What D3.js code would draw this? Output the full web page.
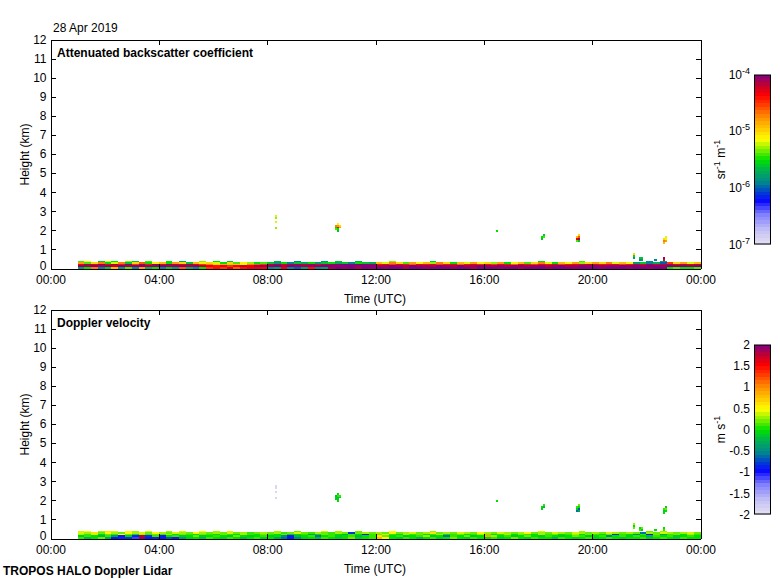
<!DOCTYPE html>
<html><head><meta charset="utf-8">
<script src="https://cdn.jsdelivr.net/npm/d3@7/dist/d3.min.js"></script>
<style>
body{margin:0;background:#fff}
text{font-family:"Liberation Sans",Arial,Helvetica,sans-serif;fill:#000}
</style>
</head><body>
<svg id="c" width="780" height="580"></svg>
<script>
// ---------------- DATA ----------------
const dateLabel = "28 Apr 2019";
const footer = "TROPOS HALO Doppler Lidar";
const xTickHours = [0, 4, 8, 12, 16, 20, 24];
const xTickLabels = ["00:00", "04:00", "08:00", "12:00", "16:00", "20:00", "00:00"];
const yTicks = [0, 1, 2, 3, 4, 5, 6, 7, 8, 9, 10, 11, 12];
const betaTickExp = [-7, -6, -5, -4];
const velTicks = [-2, -1.5, -1, -0.5, 0, 0.5, 1, 1.5, 2];

// time grid of the boundary-layer profiles (hours UTC) and range gates (km)
const timeStart = 1, timeStep = 0.25;
const gateBase = [0, 0.08, 0.16, 0.24, 0.32];
const gateSize = 0.08;

// log10 attenuated backscatter (sr-1 m-1), one array per range gate, 15-min columns from 01:00
const betaG0 = [-5.8,-5.5,-4.7,-5.9,-5.6,-4.9,-5.8,-5.4,-5.9,-4.8,-5.7,-5.5,
  -5.9,-5.6,-5.8,-4.6,-5.7,-5.9,-5.5,-4.5,
  -4.4,-4.5,-4.3,-4.6,-4.4,-4.3, -4.3,-4.35,
  -5.9,-5.8,-4.3,-5.9,-6.0,-5.8,-4.4,-5.9,-5.8,-4.1,-4.0,-4.05,-4.0,-4.1,-4.0,-4.05,
  -4.0,-4.05,-4.0,-4.0,-4.1,-4.0,-4.0,-4.05,-4.0,-4.0,-4.0,-4.05,-4.0,-4.0,-4.1,-4.0,
  -4.0,-4.0,-4.05,-4.0,-4.0,-4.1,-4.0,-4.0,-4.0,-4.05,-4.0,-4.0,-4.0,-4.05,-4.0,-4.0,
  -4.0,-4.05,-4.0,-4.0,-4.0,-4.05,
  -4.0,-4.0,-4.05,-4.0,-4.0,-5.5,-5.4,-5.5,-5.5,-5.4];
const betaG1 = [-4.05,-4.1,-4.0,-4.1,-4.05,-4.2,-4.0,-4.1,-4.05,-4.0,-4.1,-4.05,
  -4.0,-4.1,-4.05,-4.0,-4.1,-4.05,-4.2,-4.3,
  -4.4,-4.3,-4.5,-4.35,-4.2,-4.3, -4.1,-4.05,
  -4.05,-4.0,-4.1,-4.0,-4.05,-4.1,-4.0,-4.05,-4.0,-4.0,-4.05,-4.0,-4.0,-4.05,-4.0,-4.0,
  -4.1,-4.05,-4.0,-4.05,-4.1,-4.0,-4.05,-4.05,-4.1,-4.0,-4.05,-4.1,-4.0,-4.1,-4.05,-4.0,
  -4.05,-4.1,-4.0,-4.1,-4.05,-4.0,-4.1,-4.05,-4.0,-4.1,-4.05,-4.0,-4.1,-4.05,-4.0,-4.05,
  -4.0,-4.05,-4.0,-4.05,-4.0,-4.0,
  -4.0,-4.05,-4.0,-4.0,-4.05,-4.0,-4.0,-4.0,-4.05,-4.0];
const betaG2 = [-4.35,-4.1,-4.3,-4.05,-4.35,-4.1,-4.4,-4.05,-4.5,-4.1,-4.4,-4.05,
  -4.3,-4.05,-4.2,-4.3,-4.1,-4.3,-4.5,-4.7,
  -5.0,-4.8,-5.3,-4.9,-5.1,-4.7, -4.6,-4.5,
  -4.2,-4.1,-4.3,-4.15,-4.1,-4.2,-4.1,-4.3,-4.15,-4.1,-4.05,-4.0,-4.05,-4.0,-4.05,-4.1,
  -4.4,-4.35,-4.5,-4.3,-4.4,-4.6,-4.35,-4.4,-4.3,-4.5,-4.4,-4.35,-4.6,-4.4,-4.3,-4.45,
  -4.4,-4.5,-4.35,-4.4,-4.6,-4.3,-4.4,-4.5,-4.35,-4.4,-4.3,-4.5,-4.4,-4.35,-4.3,-4.2,
  -4.3,-4.4,-4.35,-4.3,-4.5,-4.4,
  -4.2,-4.3,-4.1,-4.25,-4.2,-4.1,-4.3,-4.2,-4.3,-4.2];
const betaG3 = [-4.8,-5.4,-5.0,-4.7,-5.5,-5.2,-4.7,-5.6,-5.0,-4.6,-5.5,-5.1,
  -4.9,-5.5,-4.8,-5.0,-5.6,-4.9,-5.1,-5.0,
  -5.2,-5.5,-5.0,-5.4,-5.1,-5.3, -5.5,-5.4,
  -5.6,-5.8,-5.5,-5.9,-5.6,-5.7,-5.5,-5.8,-5.6,-5.5,-5.7,-5.6,-5.9,-5.5,-5.6,-5.7,
  -4.9,-5.2,-4.7,-5.0,-5.4,-4.8,-5.1,-4.9,-5.3,-4.7,-5.0,-5.5,-4.9,-5.2,-4.8,-5.1,
  -5.0,-5.3,-4.8,-5.5,-5.1,-4.9,-5.4,-5.0,-4.7,-5.2,-5.5,-4.9,-5.1,-4.8,-5.3,-5.0,
  -4.8,-5.0,-4.7,-5.2,-4.9,-5.1,
  -5.8,-5.6,-5.9,-5.7,-6.0,-4.5,-5.0,-4.8,-5.2,-4.9];
const betaG4 = [-5.4,-5.1,null,-5.6,-5.2,-5.5,null,-5.3,-5.6,null,-5.4,null,
  null,-5.5,null,-5.7,null,null,-5.3,null,
  -5.5,null,-5.6,null,null,null, null,null,
  null,-5.7,null,null,-5.9,null,null,null,-5.8,null,-5.6,null,null,-5.7,null,null,
  null,null,-5.3,null,null,null,null,null,-5.6,null,null,null,null,null,null,null,
  null,null,null,null,null,null,null,null,-5.5,null,null,null,null,null,-5.4,null,
  null,null,null,null,null,null,
  null,null,-5.9,null,-5.8,null,null,null,null,null];

// Doppler velocity (m s-1), same grid
const velG0 = [0.1,-0.2,0.0,0.2,-0.3,-0.9,-1.0,-0.8,-1.1,1.9,-0.9,-1.0,
  -0.9,-0.7,-1.0,-0.4,-0.1,0.0,-0.2,0.1,
  0.0,-0.1,0.1,0.0,-0.2,0.0, 0.1,-0.1,
  0.0,-0.3,-0.6,-0.9,-0.5,-0.1,0.0,-0.2,0.1,0.0,-0.1,0.0,0.2,-0.1,0.0,0.1,
  0.8,0.5,0.0,-0.1,0.1,0.0,-0.2,0.0,0.1,-0.1,0.0,0.2,0.0,-0.1,0.1,0.0,
  0.0,0.1,-0.1,0.0,0.2,0.0,-0.1,0.1,0.0,0.0,-0.2,0.1,0.0,-0.1,0.0,0.1,
  -0.1,0.0,0.1,0.0,-0.1,0.0,
  0.0,0.1,-0.1,0.0,0.1,0.0,-0.1,0.1,0.0,0.0];
const velG1 = [-0.1,0.1,0.0,-0.2,0.1,-0.4,-0.9,-0.1,-1.0,1.8,-0.8,0.1,
  -0.9,0.0,0.1,-0.1,0.0,0.2,-0.1,0.0,
  0.1,0.0,-0.1,0.2,0.0,-0.1, 0.0,0.1,
  -0.1,0.0,-0.5,-0.9,-0.2,0.0,0.1,-0.6,0.0,0.1,-0.1,0.0,0.1,-0.2,0.0,0.1,
  0.6,0.2,0.0,0.1,-0.1,0.0,0.1,0.3,-0.1,0.0,-0.6,0.1,0.0,0.2,-0.1,0.0,
  0.9,0.3,0.0,0.1,-0.1,0.0,0.2,0.0,-0.1,0.1,0.0,-0.1,0.0,0.2,0.1,-0.1,
  0.0,0.1,-0.5,0.0,0.1,-0.1,
  0.1,0.0,-0.2,0.1,0.0,0.1,-0.1,0.0,0.1,0.0];
const velG2 = [0.3,0.1,0.4,0.0,0.2,0.1,0.5,0.2,0.0,0.3,0.1,0.2,
  0.1,0.3,0.0,0.2,0.1,0.0,0.2,0.1,
  0.0,0.2,0.1,0.0,0.3,0.1, 0.0,0.2,
  0.1,0.0,0.2,-0.1,0.0,0.1,-0.3,0.0,0.2,0.1,0.0,-0.2,0.1,0.0,-0.9,0.1,
  0.2,0.4,0.1,0.0,0.3,0.1,0.2,0.0,0.1,0.3,0.0,0.1,0.2,0.0,0.1,0.3,
  0.2,0.0,0.1,0.3,0.0,0.2,0.1,0.0,0.3,0.1,0.2,0.0,0.1,0.3,0.0,0.2,
  0.1,0.0,0.2,-0.8,0.1,0.0,
  -0.5,0.1,-0.9,0.2,-0.3,0.1,0.2,0.0,0.3,0.1];
const velG3 = [0.4,0.3,0.6,0.2,0.5,0.3,0.2,0.5,0.3,0.4,0.2,0.5,
  0.3,0.2,0.4,0.3,0.2,0.5,0.3,0.2,
  0.3,0.2,0.4,0.2,0.3,0.1, 0.2,0.3,
  0.2,0.3,0.1,0.2,0.4,0.2,0.1,0.3,0.2,0.1,0.3,0.2,-0.8,0.2,0.3,0.2,
  0.3,0.2,0.5,0.2,0.3,0.4,0.2,0.3,0.6,0.2,0.3,0.2,0.4,0.3,0.2,0.5,
  0.3,0.2,0.4,0.3,0.2,0.3,0.5,0.2,0.3,0.2,0.4,0.3,0.2,0.4,0.3,0.2,
  0.3,0.2,0.4,0.3,0.2,0.3,
  0.2,-0.6,0.3,0.2,0.4,0.3,0.2,0.3,0.4,0.2];
const velG4 = [0.4,0.5,null,0.3,0.6,0.4,null,0.5,0.3,null,0.4,null,
  null,0.3,null,0.4,null,null,0.5,null,
  0.3,null,0.4,null,null,null, null,null,
  null,0.3,null,null,0.2,null,null,null,0.4,null,0.3,null,null,0.2,null,null,
  null,null,0.5,null,null,null,null,null,0.3,null,null,null,null,null,null,null,
  null,null,null,null,null,null,null,null,0.4,null,null,null,null,null,0.3,null,
  null,null,null,null,null,null,
  null,null,0.2,null,0.3,null,null,null,null,null];

// isolated cloud / aerosol features above the boundary layer
const featTime   = [8.28,8.28,8.28,8.28, 10.50,10.50,10.50, 10.58,10.58,10.58,10.58,10.58, 10.66,10.66, 16.45,
  18.10,18.10,18.18,18.18, 19.40,19.40,19.40, 19.48,19.48,19.48,19.48, 22.60,22.60,22.60, 22.68,22.68,22.68,
  21.50,21.50,21.50, 21.72,21.72, 21.80,21.80, 22.30, 22.62,22.62];
const featHeight = [2.70,2.60,2.40,2.05, 2.00,2.10,2.20, 1.90,2.00,2.10,2.20,2.30, 2.10,2.20, 1.90,
  1.50,1.60,1.60,1.70, 1.40,1.50,1.60, 1.40,1.50,1.60,1.70, 1.30,1.40,1.50, 1.40,1.50,1.60,
  0.50,0.60,0.70, 0.40,0.50, 0.40,0.50, 0.40, 0.40,0.50];
const featBeta   = [-5.2,-5.3,-5.2,-5.3, -5.4,-5.5,-4.7, -5.6,-5.5,-4.3,-4.8,-5.1, -4.8,-5.0, -5.5,
  -5.6,-5.5,-5.4,-5.6, -5.4,-4.3,-4.9, -5.6,-4.1,-4.6,-5.0, -4.9,-4.7,-5.0, -4.8,-5.1,-5.2,
  -5.8,-5.5,-5.0, -5.9,-5.6, -5.8,-5.6, -5.9, -4.3,-4.1];
const featVel    = [-1.9,-1.9,-1.9,-1.9, -0.1,0.0,-0.2, 0.0,-0.1,-0.2,0.1,0.0, -0.1,0.1, 0.0,
  -0.1,0.0,-0.2,0.1, -0.6,-0.1,0.1, -0.3,-0.7,0.0,0.2, 0.0,-0.1,0.1, 0.0,0.2,-0.1,
  0.2,0.0,0.3, 0.1,0.0, -0.1,0.2, 0.0, 0.1,0.0];
const featDt = 0.08, featDh = 0.1;

// colour map (position 0..1 -> colour)
const cmapStops  = [0, 0.08, 0.18, 0.26, 0.31, 0.37, 0.44, 0.50, 0.56, 0.62, 0.68, 0.75, 0.82, 0.88, 0.94, 1];
const cmapColors = ["#e4e0f0","#c8c4f4","#8080ff","#0a0aff","#0040d0","#008a8a","#00b050","#00e000",
  "#80f000","#ffff00","#ffcc00","#ff9000","#ff4000","#ff0000","#c00030","#800080"];

// ---------------- DRAW ----------------
const svg = d3.select("#c");
const cmap = d3.scaleLinear().domain(cmapStops).range(cmapColors).clamp(true);
const FS = 12;

svg.append("text").attr("x", 53).attr("y", 32).attr("font-size", FS).text(dateLabel);
svg.append("text").attr("x", 3).attr("y", 575).attr("font-size", FS).attr("font-weight", "bold").text(footer);

function supText(sel, parts) {
  parts.forEach(p => {
    const t = sel.append("tspan").text(p.t);
    if (p.sup) t.attr("font-size", 9).attr("dy", -5);
    if (p.down) t.attr("dy", 5);
  });
}

function drawPanel(top, rows, featVals, vmin, vmax, title, cbTickVals, cbTickFmt, unitParts) {
  const g = svg.append("g");
  const x = d3.scaleLinear().domain([0, 24]).range([50.5, 700.5]);
  const y = d3.scaleLinear().domain([0, 12]).range([top + 229, top]);
  const norm = d3.scaleLinear().domain([vmin, vmax]).range([0, 1]).clamp(true);

  const cells = [];
  rows.forEach((row, gi) => row.forEach((v, i) => {
    if (v !== null) cells.push({t: timeStart + i * timeStep, h: gateBase[gi], v: v, dt: timeStep, dh: gateSize});
  }));
  featTime.forEach((t, k) => cells.push({t: t, h: featHeight[k], v: featVals[k], dt: featDt, dh: featDh}));

  g.append("g").attr("shape-rendering", "crispEdges")
    .selectAll("rect").data(cells).join("rect")
    .attr("x", d => x(d.t)).attr("width", d => x(d.t + d.dt) - x(d.t))
    .attr("y", d => y(d.h + d.dh)).attr("height", d => y(d.h) - y(d.h + d.dh))
    .attr("fill", d => cmap(norm(d.v)));

  // axes with inward ticks
  const styleAxis = a => {
    a.selectAll("text").attr("font-size", FS).attr("font-family", '"Liberation Sans",Arial,sans-serif').attr("fill", "#000");
    a.selectAll("line,path").attr("stroke", "#000").attr("shape-rendering", "crispEdges");
  };
  const yAx = g.append("g").attr("transform", `translate(50.5,0)`)
    .call(d3.axisLeft(y).tickValues(yTicks).tickFormat(d3.format("d")).tickSizeInner(-5).tickSizeOuter(0).tickPadding(4))
    .call(styleAxis);
  // the "0" label sits just above the first time label
  yAx.selectAll(".tick text").filter(d => d === 0).attr("dy", "0.1em");
  g.append("g").attr("transform", `translate(700.5,0)`)
    .call(d3.axisRight(y).tickValues(yTicks).tickFormat("").tickSizeInner(-5).tickSizeOuter(0))
    .call(styleAxis);
  g.append("g").attr("transform", `translate(0,${top + 229})`)
    .call(d3.axisBottom(x).tickValues(xTickHours).tickFormat((d, i) => xTickLabels[i]).tickSizeInner(-5).tickSizeOuter(0).tickPadding(7))
    .call(styleAxis);
  g.append("g").attr("transform", `translate(0,${top})`)
    .call(d3.axisTop(x).tickValues(xTickHours).tickFormat("").tickSizeInner(-5).tickSizeOuter(0))
    .call(styleAxis);

  g.append("text").attr("x", 57).attr("y", top + 17).attr("font-size", FS).attr("font-weight", "bold").text(title);
  g.append("text").attr("transform", `translate(29,${top + 115}) rotate(-90)`).attr("text-anchor", "middle")
    .attr("font-size", FS).text("Height (km)");
  g.append("text").attr("x", 375).attr("y", top + 263).attr("text-anchor", "middle").attr("font-size", FS).text("Time (UTC)");

  // colour bar
  const cbTop = top + 35, cbBot = top + 205, cbX = 754, cbW = 17;
  const cbY = d3.scaleLinear().domain([vmin, vmax]).range([cbBot, cbTop]);
  const nSteps = 48;
  const steps = d3.range(nSteps);
  g.append("g").attr("shape-rendering", "crispEdges").selectAll("rect").data(steps).join("rect")
    .attr("x", cbX).attr("width", cbW)
    .attr("y", i => cbY(vmin + (i + 1) * (vmax - vmin) / nSteps))
    .attr("height", i => cbY(vmin + i * (vmax - vmin) / nSteps) - cbY(vmin + (i + 1) * (vmax - vmin) / nSteps) + 0.5)
    .attr("fill", i => cmap((i + 0.5) / nSteps));
  g.append("rect").attr("x", cbX + 0.5).attr("y", cbTop + 0.5).attr("width", cbW - 1).attr("height", cbBot - cbTop - 1)
    .attr("fill", "none").attr("stroke", "#000");
  cbTickVals.forEach(v => {
    const t = g.append("text").attr("x", 750).attr("y", cbY(v)).attr("dy", "0.36em")
      .attr("text-anchor", "end").attr("font-size", FS);
    supText(t, cbTickFmt(v));
  });
  const ut = g.append("text").attr("transform", `translate(725,${(cbTop + cbBot) / 2}) rotate(-90)`)
    .attr("text-anchor", "middle").attr("font-size", FS);
  supText(ut, unitParts);
}

drawPanel(39.5, [betaG0, betaG1, betaG2, betaG3, betaG4], featBeta, -7, -4,
  "Attenuated backscatter coefficient", betaTickExp,
  v => [{t: "10"}, {t: String(v), sup: true}],
  [{t: "sr"}, {t: "-1", sup: true}, {t: " m", down: true}, {t: "-1", sup: true}]);

drawPanel(309.5, [velG0, velG1, velG2, velG3, velG4], featVel, -2, 2,
  "Doppler velocity", velTicks,
  v => [{t: String(v)}],
  [{t: "m s"}, {t: "-1", sup: true}]);
</script>
</body></html>
